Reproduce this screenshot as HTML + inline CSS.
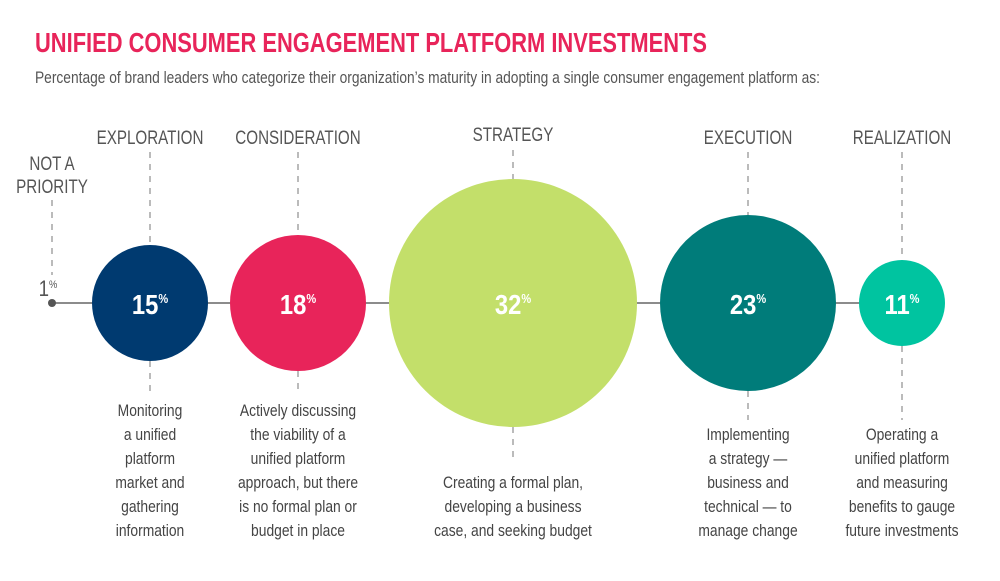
<!DOCTYPE html>
<html><head><meta charset="utf-8"><style>
html,body{margin:0;padding:0;background:#fff;}
svg{display:block;}
text{font-family:"Liberation Sans Narrow","Liberation Sans",sans-serif;}
</style></head><body>
<svg width="1000" height="581" viewBox="0 0 1000 581" xmlns="http://www.w3.org/2000/svg">
<text x="35" y="52" font-size="28" fill="#e8245a" font-weight="bold" textLength="672" lengthAdjust="spacingAndGlyphs">UNIFIED CONSUMER ENGAGEMENT PLATFORM INVESTMENTS</text>
<text x="35" y="83" font-size="17" fill="#555" textLength="785" lengthAdjust="spacingAndGlyphs">Percentage of brand leaders who categorize their organization’s maturity in adopting a single consumer engagement platform as:</text>

<line x1="52" y1="303" x2="860" y2="303" stroke="#666" stroke-width="1.5"/>
<circle cx="52" cy="303" r="4" fill="#555"/>

<g stroke="#bbb" stroke-width="2" stroke-dasharray="6,6">
<line x1="52" y1="200" x2="52" y2="275"/>
<line x1="150" y1="152" x2="150" y2="245"/>
<line x1="150" y1="361" x2="150" y2="395"/>
<line x1="298" y1="152" x2="298" y2="235"/>
<line x1="298" y1="371" x2="298" y2="395"/>
<line x1="513" y1="150" x2="513" y2="179"/>
<line x1="513" y1="427" x2="513" y2="462"/>
<line x1="748" y1="152" x2="748" y2="215"/>
<line x1="748" y1="391" x2="748" y2="420"/>
<line x1="902" y1="152" x2="902" y2="260"/>
<line x1="902" y1="346" x2="902" y2="420"/>
</g>

<circle cx="150" cy="303" r="58" fill="#003a70"/>
<circle cx="298" cy="303" r="68" fill="#e8245a"/>
<circle cx="513" cy="303" r="124" fill="#c3df6a"/>
<circle cx="748" cy="303" r="88" fill="#007c7a"/>
<circle cx="902" cy="303" r="43" fill="#00c4a0"/>

<g fill="#555" font-size="19" text-anchor="middle">
<g transform="translate(52,0) scale(0.8,1)"><text x="0" y="170">NOT A</text><text x="0" y="193">PRIORITY</text></g>
<g transform="translate(150,0) scale(0.8,1)"><text x="0" y="144">EXPLORATION</text></g>
<g transform="translate(298,0) scale(0.8,1)"><text x="0" y="144">CONSIDERATION</text></g>
<g transform="translate(513,0) scale(0.8,1)"><text x="0" y="141">STRATEGY</text></g>
<g transform="translate(748,0) scale(0.8,1)"><text x="0" y="144">EXECUTION</text></g>
<g transform="translate(902,0) scale(0.8,1)"><text x="0" y="144">REALIZATION</text></g>
</g>

<g transform="translate(48,0) scale(0.85,1)"><text x="0" y="296" font-size="22" fill="#555" text-anchor="middle">1<tspan font-size="11" dy="-8">%</tspan></text></g>
<g fill="#fff" font-size="28" font-weight="bold" text-anchor="middle">
<g transform="translate(150,0) scale(0.85,1)"><text x="0" y="314">15<tspan font-size="13" dy="-11">%</tspan></text></g>
<g transform="translate(298,0) scale(0.85,1)"><text x="0" y="314">18<tspan font-size="13" dy="-11">%</tspan></text></g>
<g transform="translate(513,0) scale(0.85,1)"><text x="0" y="314">32<tspan font-size="13" dy="-11">%</tspan></text></g>
<g transform="translate(748,0) scale(0.85,1)"><text x="0" y="314">23<tspan font-size="13" dy="-11">%</tspan></text></g>
<g transform="translate(902,0) scale(0.85,1)"><text x="0" y="314">11<tspan font-size="13" dy="-11">%</tspan></text></g>
</g>

<g fill="#444" font-size="16.5" text-anchor="middle">
<g transform="translate(150,0) scale(0.84,1)">
<text x="0" y="416">Monitoring</text>
<text x="0" y="440">a unified</text>
<text x="0" y="464">platform</text>
<text x="0" y="488">market and</text>
<text x="0" y="512">gathering</text>
<text x="0" y="536">information</text>
</g>
<g transform="translate(298,0) scale(0.84,1)">
<text x="0" y="416">Actively discussing</text>
<text x="0" y="440">the viability of a</text>
<text x="0" y="464">unified platform</text>
<text x="0" y="488">approach, but there</text>
<text x="0" y="512">is no formal plan or</text>
<text x="0" y="536">budget in place</text>
</g>
<g transform="translate(513,0) scale(0.84,1)">
<text x="0" y="488">Creating a formal plan,</text>
<text x="0" y="512">developing a business</text>
<text x="0" y="536">case, and seeking budget</text>
</g>
<g transform="translate(748,0) scale(0.84,1)">
<text x="0" y="440">Implementing</text>
<text x="0" y="464">a strategy —</text>
<text x="0" y="488">business and</text>
<text x="0" y="512">technical — to</text>
<text x="0" y="536">manage change</text>
</g>
<g transform="translate(902,0) scale(0.84,1)">
<text x="0" y="440">Operating a</text>
<text x="0" y="464">unified platform</text>
<text x="0" y="488">and measuring</text>
<text x="0" y="512">benefits to gauge</text>
<text x="0" y="536">future investments</text>
</g>
</g>
</svg>
</body></html>
